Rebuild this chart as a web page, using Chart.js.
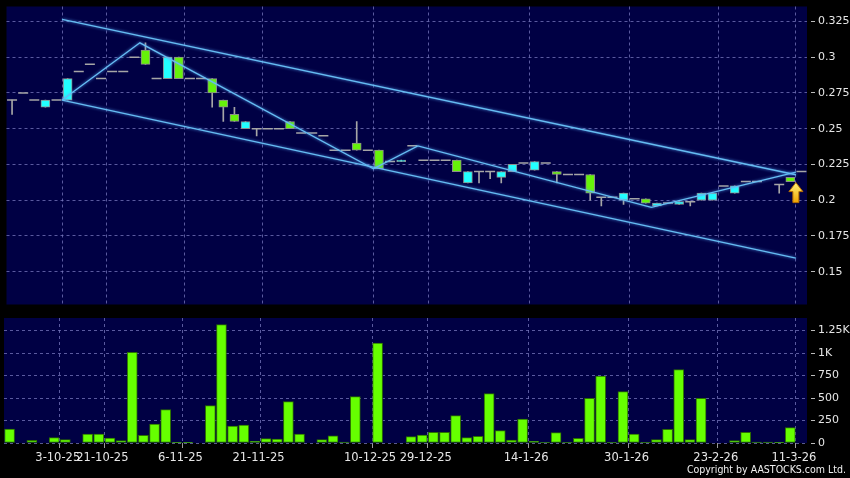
<!DOCTYPE html>
<html>
<head>
<meta charset="utf-8">
<script src="https://cdn.jsdelivr.net/npm/chart.js@4.4.1/dist/chart.umd.min.js"></script>
<style>
html, body { margin: 0; padding: 0; background: #000; }
#wrap { position: relative; width: 850px; height: 478px; background: #000; overflow: hidden; }
#price { position: absolute; left: 0; top: 0; }
#vol { position: absolute; left: 0; top: 310px; }
#copy { position: absolute; right: 4px; top: 463px; color: #f0f0f0; font-family: "DejaVu Sans Condensed", "DejaVu Sans", sans-serif; font-size: 10.5px; white-space: nowrap; }
</style>
</head>
<body>
<div id="wrap">
  <canvas id="price" width="850" height="311"></canvas>
  <canvas id="vol" width="850" height="168"></canvas>
  <div id="copy">Copyright by AASTOCKS.com Ltd.</div>
</div>
<script>
// daily candles, one slot per trading day (null = no candle)
const opens  = [0.27,0.275,0.27,0.265,0.27,0.27,0.29,0.295,0.285,0.29,0.29,0.30,0.305,0.285,0.285,0.30,0.285,0.285,0.285,0.27,
                0.26,0.25,0.25,0.25,0.25,0.255,0.247,0.247,0.245,0.235,0.235,0.24,0.235,0.235,0.227,0.227,0.238,0.228,0.228,0.228,
                0.228,0.212,0.22,0.22,0.216,0.22,0.226,0.221,0.226,0.22,0.218,0.218,0.218,0.202,0.202,0.20,0.201,0.201,0.196,0.198,
                0.197,0.199,0.20,0.20,0.21,0.205,0.213,0.213,null,0.211,0.216,0.22];
const highs  = [0.27,0.275,0.27,0.27,0.27,0.285,0.29,0.295,0.285,0.29,0.29,0.30,0.31,0.285,0.30,0.30,0.285,0.285,0.285,0.27,
                0.265,0.255,0.25,0.25,0.25,0.255,0.247,0.247,0.245,0.235,0.235,0.255,0.235,0.235,0.227,0.228,0.238,0.228,0.228,0.228,
                0.228,0.22,0.22,0.22,0.22,0.225,0.226,0.227,0.226,0.22,0.218,0.218,0.218,0.202,0.202,0.205,0.201,0.201,0.198,0.198,
                0.199,0.199,0.205,0.205,0.21,0.21,0.213,0.213,null,0.211,0.216,0.22];
const lows   = [0.26,0.275,0.27,0.265,0.27,0.27,0.29,0.295,0.285,0.29,0.29,0.30,0.295,0.285,0.285,0.285,0.285,0.285,0.265,0.255,
                0.255,0.25,0.245,0.25,0.25,0.25,0.247,0.247,0.245,0.235,0.235,0.235,0.235,0.222,0.227,0.227,0.238,0.228,0.228,0.228,
                0.22,0.212,0.212,0.215,0.212,0.22,0.226,0.221,0.226,0.212,0.218,0.218,0.20,0.196,0.202,0.197,0.201,0.198,0.196,0.198,
                0.197,0.196,0.20,0.20,0.21,0.205,0.213,0.213,null,0.205,0.213,0.22];
const closes = [0.27,0.275,0.27,0.27,0.27,0.285,0.29,0.295,0.285,0.29,0.29,0.30,0.295,0.285,0.30,0.285,0.285,0.285,0.275,0.265,
                0.255,0.255,0.25,0.25,0.25,0.25,0.247,0.247,0.245,0.235,0.235,0.235,0.235,0.222,0.227,0.228,0.238,0.228,0.228,0.228,
                0.22,0.22,0.22,0.22,0.22,0.225,0.226,0.227,0.226,0.218,0.218,0.218,0.205,0.202,0.202,0.205,0.201,0.198,0.198,0.198,
                0.199,0.199,0.205,0.205,0.21,0.21,0.213,0.213,null,0.211,0.213,0.22];
const volumes = [156,0,30,0,59,37,0,100,100,56,26,1007,85,211,370,8,8,0,415,1315,
                 189,200,18,48,44,459,100,0,37,81,11,515,0,1111,0,0,70,89,118,118,
                 304,59,74,548,137,33,267,18,5,115,5,52,496,744,5,570,100,5,37,152,
                 815,37,496,0,0,26,118,11,11,7,170,0];

// trend channel and zigzag: [slot position, price]
const upperLine = [[5, 0.3264], [71, 0.2178]];
const lowerLine = [[5, 0.27], [71, 0.1595]];
const zigzag = [[5, 0.27], [12, 0.31], [33, 0.222], [37, 0.238], [58, 0.195], [71, 0.2197]];

const dateLabels = ['3-10-25', '21-10-25', '6-11-25', '21-11-25', '10-12-25', '29-12-25', '14-1-26', '30-1-26', '23-2-26', '11-3-26'];
const datePos = [5, 9, 16, 23, 33, 38, 47, 56, 64, 71];
const priceTicks = [0.15, 0.175, 0.2, 0.225, 0.25, 0.275, 0.3, 0.325];
const volTicks = [0, 250, 500, 750, 1000, 1250];

const UP = '#22ffff', DOWN = '#66f20a', DOJI = '#a6a6a6';
const GRID = 'rgba(120,120,190,0.75)';
const LABEL = '#e6e6e6';
const LINE = '#66bdf2';

const bodies = [], bodyColors = [], wicks = [], dojis = [];
opens.forEach((o, i) => {
    if (o === null) return;
    const c = closes[i];
    if (highs[i] > lows[i]) wicks.push({ x: i + 0.5, y: [lows[i], highs[i]] });
    if (o === c) {
        dojis.push({ x: i + 0.5, y: c });
    } else {
        bodies.push({ x: i + 0.5, y: [o, c] });
        bodyColors.push(c > o ? UP : DOWN);
    }
});

const toXY = pts => pts.map(p => ({ x: p[0], y: p[1] }));

function noPad(axis) {
    axis.paddingTop = 0; axis.paddingBottom = 0;
    axis.paddingLeft = 0; axis.paddingRight = 0;
}

function xAxis(showLabels) {
    return {
        type: 'linear', min: 0, max: 72, offset: false,
        afterBuildTicks: axis => { axis.ticks = datePos.map(v => ({ value: v })); },
        afterFit: axis => { axis.height = showLabels ? 35 : 0; noPad(axis); },
        ticks: {
            display: showLabels, autoSkip: false, maxRotation: 0, padding: 3, labelOffset: -2,
            color: LABEL, font: { family: 'DejaVu Sans', size: 11.5 },
            callback: (v, idx) => dateLabels[idx]
        },
        grid: { color: GRID, offset: false, drawTicks: showLabels, tickLength: 5, tickColor: '#9a9a9a', tickBorderDash: [] },
        border: { display: false, dash: [3, 3] }
    };
}

function yAxis(ticks, min, max, fmt) {
    return {
        type: 'linear', position: 'right', min: min, max: max,
        afterBuildTicks: axis => { axis.ticks = ticks.map(v => ({ value: v })); },
        afterFit: axis => { axis.width = 43; noPad(axis); },
        ticks: { color: LABEL, padding: 3, font: { family: 'DejaVu Sans', size: 11 }, callback: fmt },
        grid: { color: GRID, tickLength: 8, tickColor: '#bbbbbb', tickBorderDash: [0, 4, 4, 40] },
        border: { display: false, dash: [3, 3] }
    };
}

// plot background, soft glow on the trend lines, yellow arrow on the last candle
const panelBg = {
    id: 'panelBg',
    beforeDraw(chart) {
        const a = chart.chartArea, ctx = chart.ctx;
        ctx.save();
        ctx.fillStyle = '#000044';
        ctx.fillRect(a.left, a.top, a.right - a.left, a.bottom - a.top);
        ctx.restore();
    }
};

const glow = {
    id: 'glow',
    beforeDatasetDraw(chart, args) {
        if (args.meta.type !== 'line') return;
        chart.ctx.save();
        chart.ctx.shadowColor = 'rgba(90,170,255,0.9)';
        chart.ctx.shadowBlur = 3;
    },
    afterDatasetDraw(chart, args) {
        if (args.meta.type !== 'line') return;
        chart.ctx.restore();
    }
};

const arrow = {
    id: 'arrow',
    afterDatasetsDraw(chart) {
        const xs = chart.scales.x, ys = chart.scales.y, ctx = chart.ctx;
        const x = xs.getPixelForValue(71);
        const top = ys.getPixelForValue(closes[70]) + 1;
        const h = 20, hw = 7, sw = 3, hh = 9;
        ctx.save();
        const g = ctx.createLinearGradient(0, top, 0, top + h);
        g.addColorStop(0, '#fff27a');
        g.addColorStop(1, '#f0a400');
        ctx.beginPath();
        ctx.moveTo(x, top);
        ctx.lineTo(x + hw, top + hh);
        ctx.lineTo(x + sw, top + hh);
        ctx.lineTo(x + sw, top + h);
        ctx.lineTo(x - sw, top + h);
        ctx.lineTo(x - sw, top + hh);
        ctx.lineTo(x - hw, top + hh);
        ctx.closePath();
        ctx.fillStyle = g;
        ctx.fill();
        ctx.strokeStyle = '#b86e00';
        ctx.lineWidth = 1;
        ctx.stroke();
        ctx.restore();
    }
};

const lineSet = (data) => ({
    type: 'line', data: toXY(data), borderColor: LINE, borderWidth: 1.3,
    pointRadius: 0, tension: 0, order: 0
});

new Chart(document.getElementById('price'), {
    type: 'bar',
    data: {
        datasets: [
            lineSet(upperLine),
            lineSet(lowerLine),
            lineSet(zigzag),
            {
                type: 'scatter', data: dojis, pointStyle: 'line', pointRadius: 5,
                pointBorderColor: DOJI, pointBorderWidth: 1.5, order: 1
            },
            {
                type: 'bar', data: bodies, backgroundColor: bodyColors, borderColor: '#8c8c8c',
                borderWidth: 1, borderSkipped: false, barThickness: 9, grouped: false, order: 1
            },
            {
                type: 'bar', data: wicks, backgroundColor: DOJI, borderWidth: 0,
                barThickness: 1, grouped: false, order: 2
            }
        ]
    },
    options: {
        responsive: false, animation: false,
        layout: { padding: { top: 5, left: 4, right: 0, bottom: 6 } },
        plugins: { legend: { display: false }, tooltip: { enabled: false } },
        scales: {
            x: xAxis(false),
            y: yAxis(priceTicks, 0.1271, 0.3354, v => String(+v.toFixed(3)))
        }
    },
    plugins: [panelBg, glow, arrow]
});

new Chart(document.getElementById('vol'), {
    type: 'bar',
    data: {
        datasets: [{
            data: volumes.map((v, i) => ({ x: i + 0.5, y: v })),
            backgroundColor: '#66ff00', borderColor: '#2c7000', borderWidth: 1,
            borderSkipped: false, barThickness: 10
        }]
    },
    options: {
        responsive: false, animation: false,
        layout: { padding: { top: 8, left: 4, right: 0, bottom: 0 } },
        plugins: { legend: { display: false }, tooltip: { enabled: false } },
        scales: {
            x: xAxis(true),
            y: yAxis(volTicks, 0, 1389, v => v >= 1000 ? (v / 1000) + 'K' : String(v))
        }
    },
    plugins: [panelBg]
});
</script>
</body>
</html>
